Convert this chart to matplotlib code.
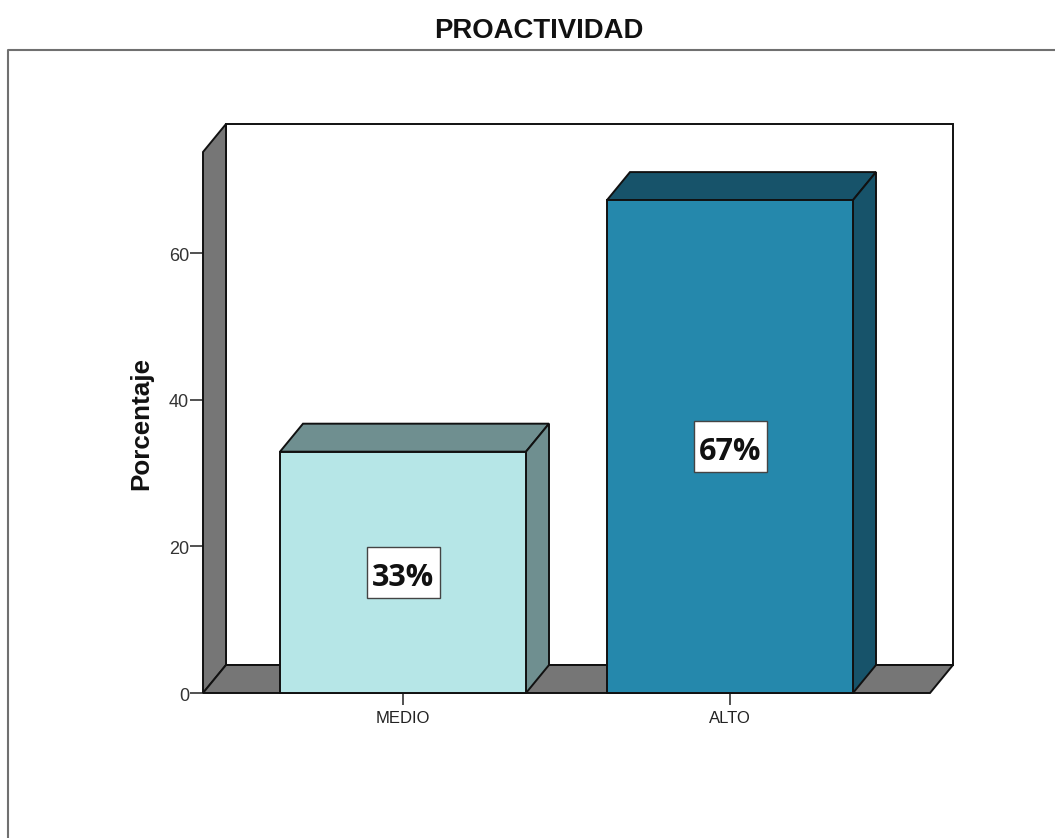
import matplotlib
matplotlib.use("Agg")
import matplotlib.pyplot as plt
from matplotlib.patches import Polygon, Rectangle
from matplotlib.lines import Line2D
from matplotlib.transforms import ScaledTranslation

categories = ["MEDIO", "ALTO"]
percentages = [32.9, 67.2]
value_labels = ["33%", "67%"]
y_ticks = [0, 20, 40, 60]
title = "PROACTIVIDAD"
y_label = "Porcentaje"

front_colors = ["#b6e6e7", "#2588ac"]
shade_colors = ["#6f8f90", "#17536a"]
wall_color = "#767676"
edge_color = "#111111"

plt.rcParams["font.family"] = ["Liberation Sans", "DejaVu Sans"]

W, H = 1055, 838
fig = plt.figure(figsize=(W / 100, H / 100), dpi=100, facecolor="white")

# Axes box is the front plane of the chart
left, right, top, bottom = 203, 930, 152, 693
ax = fig.add_axes([left / W, 1 - bottom / H, (right - left) / W, (bottom - top) / H])
unit_x = 327.0
unit_y = 7.335
ax.set_xlim((left - 403) / unit_x, (right - 403) / unit_x)
ax.set_ylim(0, (bottom - top) / unit_y)
ax.patch.set_visible(False)

dx = 23 / unit_x
dy = 28 / unit_y
bar_w = 246 / unit_x
x0, x1 = ax.get_xlim()
y1 = ax.get_ylim()[1]

lw = 1.4
# Back wall, side wall and floor
ax.add_patch(Rectangle((x0 + dx, dy), x1 - x0, y1, fc="white", ec=edge_color, lw=lw, clip_on=False, zorder=1))
ax.add_patch(Polygon([(x0, 0), (x0 + dx, dy), (x0 + dx, y1 + dy), (x0, y1)],
                     fc=wall_color, ec=edge_color, lw=lw, clip_on=False, zorder=2))
ax.add_patch(Polygon([(x0, 0), (x1, 0), (x1 + dx, dy), (x0 + dx, dy)],
                     fc=wall_color, ec=edge_color, lw=lw, clip_on=False, zorder=2))

# Extruded bars with a boxed value label at mid-height
box_w = 73 / unit_x
box_h = 51 / unit_y
for i, (v, face, shade, lab) in enumerate(zip(percentages, front_colors, shade_colors, value_labels)):
    a, b = i - bar_w / 2, i + bar_w / 2
    ax.add_patch(Polygon([(a, v), (b, v), (b + dx, v + dy), (a + dx, v + dy)],
                         fc=shade, ec=edge_color, lw=lw, clip_on=False, zorder=3))
    ax.add_patch(Polygon([(b, 0), (b + dx, dy), (b + dx, v + dy), (b, v)],
                         fc=shade, ec=edge_color, lw=lw, clip_on=False, zorder=3))
    ax.add_patch(Rectangle((a, 0), bar_w, v, fc=face, ec=edge_color, lw=lw, clip_on=False, zorder=4))
    ax.add_patch(Rectangle((i - box_w / 2, v / 2 - box_h / 2), box_w, box_h,
                           fc="white", ec="#444444", lw=1.0, zorder=5))
    ax.text(i, v / 2 - 0.75, lab, ha="center", va="center", fontsize=22, fontweight="bold",
            family=["Open Sans", "DejaVu Sans"], color="#111111", zorder=6)

# Axes furniture
for s in ("top", "right", "bottom", "left"):
    ax.spines[s].set_visible(False)
ax.set_xticks(range(len(categories)), categories)
ax.set_yticks(y_ticks)
ax.tick_params(axis="x", length=8.5, width=1.1, color="#222222", labelsize=12, pad=4.3, labelcolor="#222222")
ax.tick_params(axis="y", length=9.5, width=1.1, color="#222222", labelsize=13, pad=0.5, labelcolor="#333333")
nudge = ScaledTranslation(0, -1 / 72, fig.dpi_scale_trans)
for label in ax.get_yticklabels():
    label.set_transform(label.get_transform() + nudge)
ax.text(141 / W, 1 - 423.5 / H, y_label, transform=fig.transFigure, rotation=90, ha="center", va="center",
        fontsize=18.7, fontweight="bold", color="#111111")

# Outer chart frame and title
fig.add_artist(Line2D([8 / W, 8 / W, 1], [0, 1 - 50 / H, 1 - 50 / H], color="#707070", lw=1.5))
fig.text(538.5 / W, 1 - 30.5 / H, title, ha="center", va="center", fontsize=19.8, color="#111111",
         fontweight="bold")

fig.savefig("out.png", dpi=100)
